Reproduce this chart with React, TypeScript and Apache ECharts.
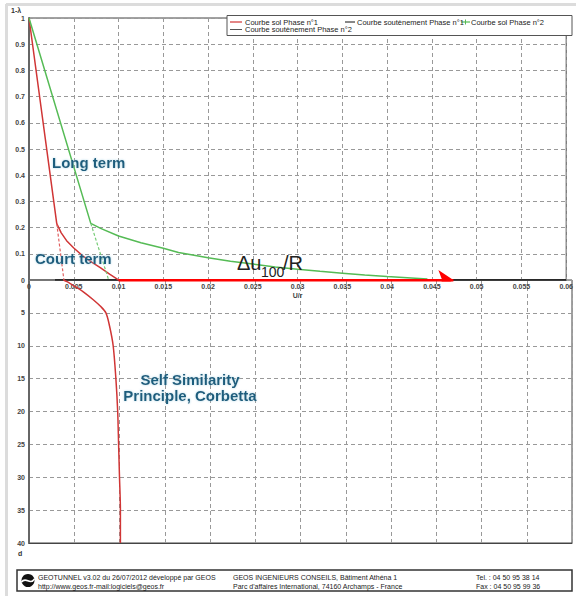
import React, { useEffect, useRef } from "react";
import * as echarts from "echarts";

// ---- data ----
const redSolPhase1: number[][] = [
  [0, 1], [0.0031, 0.215], [0.0036, 0.18], [0.0042, 0.15], [0.005, 0.122],
  [0.006, 0.092], [0.007, 0.068], [0.008, 0.046], [0.009, 0.022], [0.0099, 0.002], [0.0101, 0],
];
const redSolPhase1Dash: number[][] = [[0.0031, 0.215], [0.0039, 0]];
const greenSolPhase2: number[][] = [
  [0, 1], [0.0069, 0.216], [0.008, 0.197], [0.01, 0.168], [0.0125, 0.142], [0.015, 0.121],
  [0.0167, 0.105], [0.02, 0.085], [0.0225, 0.072], [0.025, 0.061], [0.0275, 0.05],
  [0.03, 0.041], [0.0325, 0.033], [0.035, 0.026], [0.0375, 0.019], [0.04, 0.013], [0.0445, 0.004],
];
const greenSolPhase2Dash: number[][] = [[0.0069, 0.216], [0.0089, 0]];
const soutenementPhase1: number[][] = [[0.0029, 0], [0.06, 0]];
const arrowDeltaU: number[][] = [[0.01, 0], [0.0474, 0]];
const depthCurve: number[][] = [
  [0.0038, 0], [0.0042, 0.25], [0.0051, 1.0], [0.006, 1.8], [0.0071, 3.0], [0.0079, 4.0],
  [0.0085, 5.0], [0.0089, 7], [0.0093, 10], [0.0096, 15], [0.0098, 20], [0.0099, 25],
  [0.01, 30], [0.0101, 35], [0.0101, 40],
];
const xMin = 0, xMax = 0.06, xStep = 0.005;
const yTopMin = 0, yTopMax = 1, yTopStep = 0.1;
const dMin = 0, dMax = 40, dStep = 5;

const legendRow1 = ["Courbe sol Phase n°1", "Courbe soutènement Phase n°1", "Courbe sol Phase n°2"];
const legendRow2 = ["Courbe soutènement Phase n°2"];
const footerCol1 = ["GEOTUNNEL v3.02 du 26/07/2012 développé par GEOS", "http://www.geos.fr-mail:logiciels@geos.fr"];
const footerCol2 = ["GEOS INGENIEURS CONSEILS, Bâtiment Athéna 1", "Parc d'affaires International, 74160 Archamps - France"];
const footerCol3 = ["Tel. : 04 50 95 38 14", "Fax : 04 50 95 99 36"];

const FONT = "Liberation Sans, Arial, sans-serif";
const RED = "#d03535";
const GREEN = "#55bb55";
const TEAL = "#1f5d7d";

export default function App() {
  const ref = useRef<HTMLDivElement>(null);
  useEffect(() => {
    if (!ref.current) return;
    const chart = echarts.init(ref.current, null, { renderer: "svg" });
    const split = { show: true, lineStyle: { color: "#999", type: [4, 3] as any, width: 1 } };
    const lbl = { fontSize: 7, color: "#444", fontWeight: "bold" as any, fontFamily: FONT };
    const annot = (text: string, x: number, y: number, extra: any = {}) => ({
      type: "text", x, y, z: 100,
      style: {
        text, fontSize: 15, fontWeight: "bold", fontFamily: FONT, fill: TEAL,
        verticalAlign: "middle", textShadowColor: "rgba(140,200,220,0.7)", textShadowBlur: 2, ...extra,
      },
    });
    const plain = (text: string, x: number, y: number, size = 7.5, extra: any = {}) => ({
      type: "text", x, y, z: 100,
      style: { text, fontSize: size, fontFamily: FONT, fill: "#222", verticalAlign: "middle", ...extra },
    });
    chart.setOption({
      animation: false,
      backgroundColor: "#fff",
      grid: [
        { left: 29, top: 18, width: 543, height: 262, show: true, borderColor: "#444", borderWidth: 1 },
        { left: 29, top: 280, width: 543, height: 263, show: true, borderColor: "#444", borderWidth: 1 },
      ],
      xAxis: [
        {
          type: "value", gridIndex: 0, min: xMin, max: xMax, interval: xStep, position: "bottom",
          name: "U/r", nameLocation: "middle", nameGap: 12,
          nameTextStyle: { fontSize: 7, color: "#444", fontWeight: "bold", fontFamily: FONT },
          axisLine: { show: true, onZero: false, lineStyle: { color: "#777", width: 1 } },
          axisTick: { show: false },
          axisLabel: { ...lbl, margin: 3, formatter: (v: number) => String(+v.toFixed(3)) },
          splitLine: split,
        },
        {
          type: "value", gridIndex: 1, min: xMin, max: xMax, interval: xStep, position: "bottom",
          axisLine: { show: true, onZero: false, lineStyle: { color: "#444", width: 1 } },
          axisTick: { show: false }, axisLabel: { show: false }, splitLine: split,
        },
      ],
      yAxis: [
        {
          type: "value", gridIndex: 0, min: yTopMin, max: yTopMax, interval: yTopStep,
          axisLine: { show: true, onZero: false, lineStyle: { color: "#666", width: 2 } },
          axisTick: { show: false },
          axisLabel: { ...lbl, margin: 4, formatter: (v: number) => String(+v.toFixed(1)) },
          splitLine: split,
        },
        {
          type: "value", gridIndex: 1, min: dMin, max: dMax, interval: dStep, inverse: true,
          axisLine: { show: true, onZero: false, lineStyle: { color: "#666", width: 2 } },
          axisTick: { show: false },
          axisLabel: { ...lbl, margin: 4, formatter: (v: number) => (v === 0 ? "" : String(v)) },
          splitLine: split,
        },
      ],
      series: [
        {
          name: legendRow1[1], type: "line", xAxisIndex: 0, yAxisIndex: 0, data: soutenementPhase1,
          showSymbol: false, lineStyle: { color: "#111", width: 1.5 }, z: 3,
        },
        {
          name: legendRow1[0], type: "line", xAxisIndex: 0, yAxisIndex: 0, data: redSolPhase1,
          showSymbol: false, lineStyle: { color: RED, width: 1.5 }, z: 4,
        },
        {
          name: legendRow1[0] + " (ext)", type: "line", xAxisIndex: 0, yAxisIndex: 0, data: redSolPhase1Dash,
          showSymbol: false, lineStyle: { color: "#e06060", width: 1.2, type: [3, 2] }, z: 4,
        },
        {
          name: legendRow1[2], type: "line", xAxisIndex: 0, yAxisIndex: 0, data: greenSolPhase2,
          showSymbol: false, lineStyle: { color: GREEN, width: 1.5 }, z: 4,
        },
        {
          name: legendRow1[2] + " (ext)", type: "line", xAxisIndex: 0, yAxisIndex: 0, data: greenSolPhase2Dash,
          showSymbol: false, lineStyle: { color: "#77cc77", width: 1.2, type: [3, 2] }, z: 4,
        },
        {
          name: "Δu100/R", type: "lines", coordinateSystem: "cartesian2d", xAxisIndex: 0, yAxisIndex: 0,
          symbol: ["none", "arrow"], symbolSize: [11, 15], z: 6,
          lineStyle: { color: "#ff0000", width: 3, opacity: 1 },
          data: [{ coords: arrowDeltaU }],
        },
        {
          name: "d", type: "line", xAxisIndex: 1, yAxisIndex: 1, data: depthCurve, smooth: 0.3,
          showSymbol: false, lineStyle: { color: RED, width: 1.5 }, z: 4,
        },
      ],
      graphic: [
        { type: "line", z: 50, shape: { x1: 6, y1: 4.5, x2: 576, y2: 4.5 }, style: { stroke: "#dcdcdc", lineWidth: 3 } },
        { type: "line", z: 50, shape: { x1: 6.5, y1: 4, x2: 6.5, y2: 596 }, style: { stroke: "#dcdcdc", lineWidth: 3 } },
        plain("1-λ", 11, 10, 7, { fontWeight: "bold", fill: "#333" }),
        plain("d", 18, 553, 7, { fontWeight: "bold", fill: "#333" }),
        // legend
        { type: "rect", z: 60, shape: { x: 227, y: 15.5, width: 345, height: 20 }, style: { fill: "#fff", stroke: "#555", lineWidth: 1 } },
        { type: "line", z: 61, shape: { x1: 230, y1: 22, x2: 242, y2: 22 }, style: { stroke: RED, lineWidth: 1.2 } },
        plain(legendRow1[0], 245, 22),
        { type: "line", z: 61, shape: { x1: 345, y1: 22, x2: 355, y2: 22 }, style: { stroke: "#111", lineWidth: 1 } },
        plain(legendRow1[1], 357, 22),
        { type: "line", z: 61, shape: { x1: 461, y1: 22, x2: 470, y2: 22 }, style: { stroke: GREEN, lineWidth: 1.2 } },
        { type: "line", z: 61, shape: { x1: 465.5, y1: 19.5, x2: 465.5, y2: 24.5 }, style: { stroke: GREEN, lineWidth: 1 } },
        plain(legendRow1[2], 471, 22),
        { type: "line", z: 61, shape: { x1: 230, y1: 29.5, x2: 242, y2: 29.5 }, style: { stroke: "#555", lineWidth: 1 } },
        plain(legendRow2[0], 245, 29.5),
        // annotations
        annot("Long term", 52, 162),
        annot("Court term", 35, 258),
        plain("Δu", 237, 263, 20, { fill: "#222" }),
        plain("100", 261, 272, 14, { fill: "#222" }),
        plain("/R", 283, 263, 20, { fill: "#222" }),
        annot("Self Similarity", 190, 379, { align: "center" }),
        annot("Principle, Corbetta", 190, 395, { align: "center" }),
        // footer
        { type: "rect", z: 60, shape: { x: 17, y: 570, width: 555, height: 21 }, style: { fill: "#fff", stroke: "#333", lineWidth: 1.5 } },
        { type: "circle", z: 61, shape: { cx: 28, cy: 580.5, r: 6.5 }, style: { fill: "#111" } },
        {
          type: "bezierCurve", z: 62,
          shape: { x1: 21.5, y1: 582, x2: 34.5, y2: 579, cpx1: 26, cpy1: 576, cpx2: 30, cpy2: 586 },
          style: { stroke: "#fff", lineWidth: 1.6, fill: "none" },
        },
        plain(footerCol1[0], 38, 577, 7),
        plain(footerCol1[1], 38, 586.5, 7),
        plain(footerCol2[0], 233, 577, 7),
        plain(footerCol2[1], 233, 586.5, 7),
        plain(footerCol3[0], 476, 577, 7),
        plain(footerCol3[1], 476, 586.5, 7),
      ],
    });
    return () => chart.dispose();
  }, []);
  return (
    <div
      ref={ref}
      style={{ position: "absolute", left: 0, top: 0, width: 576, height: 596, background: "#fff" }}
    />
  );
}
